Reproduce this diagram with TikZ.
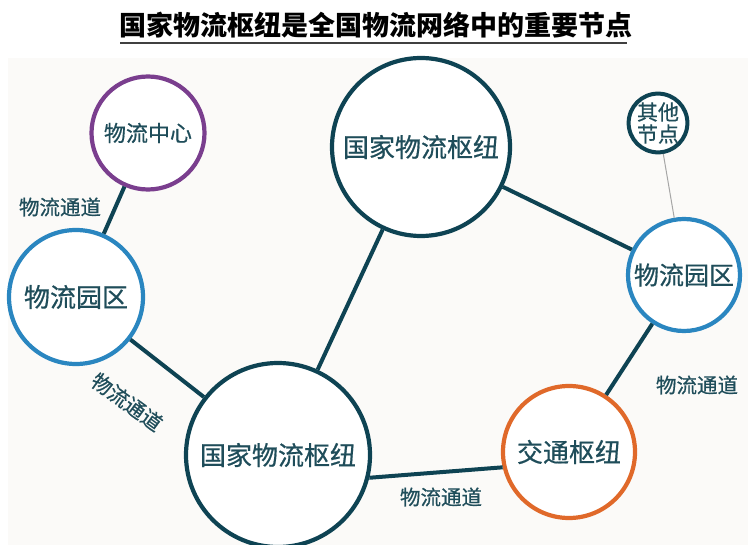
\documentclass[tikz,border=0pt]{standalone}
\usepackage{fontspec}
\newfontfamily\cjk{Noto Sans CJK SC}
\newfontfamily\cjkm[FakeBold=0.6]{Noto Sans CJK SC}
\definecolor{navy}{HTML}{0E4353}
\definecolor{txt}{HTML}{1F4D5A}
\definecolor{bluec}{HTML}{2A86C0}
\definecolor{purp}{HTML}{7A3E8E}
\definecolor{oran}{HTML}{E0692A}
\definecolor{bg}{HTML}{FBFAF8}
\tikzset{
  hub/.style={circle, draw=#1, line width=4.2pt, fill=white, inner sep=0pt, text=txt},
  link/.style={draw=navy, line width=4pt},
  lab/.style={text=txt, font=\cjkm\fontsize{20.5}{22}\selectfont, inner sep=0pt}
}
\begin{document}
\begin{tikzpicture}[x=1pt,y=-1pt]
\useasboundingbox (0,0) rectangle (752,545);
\fill[bg] (8,58) rectangle (748,545);
% title
\node[font=\cjk\bfseries\fontsize{27}{30}\selectfont, inner sep=0pt] (title) at (376,25) {国家物流枢纽是全国物流网络中的重要节点};
\draw[line width=1.2pt, black!75] (120,43) -- (627,43);
% nodes
\node[hub=navy, minimum size=178pt, font=\cjkm\fontsize{26}{28}\selectfont] (top) at (421,147) {国家物流枢纽};
\node[hub=navy, minimum size=184pt, font=\cjkm\fontsize{26}{28}\selectfont] (big) at (278,455) {国家物流枢纽};
\node[hub=oran, minimum size=132pt, font=\cjkm\fontsize{26}{28}\selectfont] (jt) at (569,452) {交通枢纽};
\node[hub=bluec, minimum size=112pt, font=\cjkm\fontsize{25}{27}\selectfont] (rp) at (684,275) {物流园区};
\node[hub=bluec, minimum size=134pt, font=\cjkm\fontsize{26}{28}\selectfont] (lp) at (76,297) {物流园区};
\node[hub=purp, minimum size=113pt, font=\cjkm\fontsize{22}{24}\selectfont] (zx) at (148,133) {物流中心};
\node[hub=navy, line width=4pt, minimum size=57pt, font=\cjkm\fontsize{21}{22}\selectfont, align=center] (qt) at (658,123) {其他\\节点};
% connectors
\draw[link] (zx) -- (lp);
\draw[link] (lp) -- (big);
\draw[link] (top) -- (big);
\draw[link] (top) -- (rp);
\draw[link] (rp) -- (jt);
\draw[link] (big.-14) -- (jt.193);
\draw[gray!70, line width=1pt] (qt) -- (rp);
% labels
\node[lab] (l1) at (60,207) {物流通道};
\node[lab, rotate=-36] (l2) at (127,402) {物流通道};
\node[lab] (l3) at (441,497) {物流通道};
\node[lab] (l4) at (697,385) {物流通道};
\end{tikzpicture}
\end{document}
